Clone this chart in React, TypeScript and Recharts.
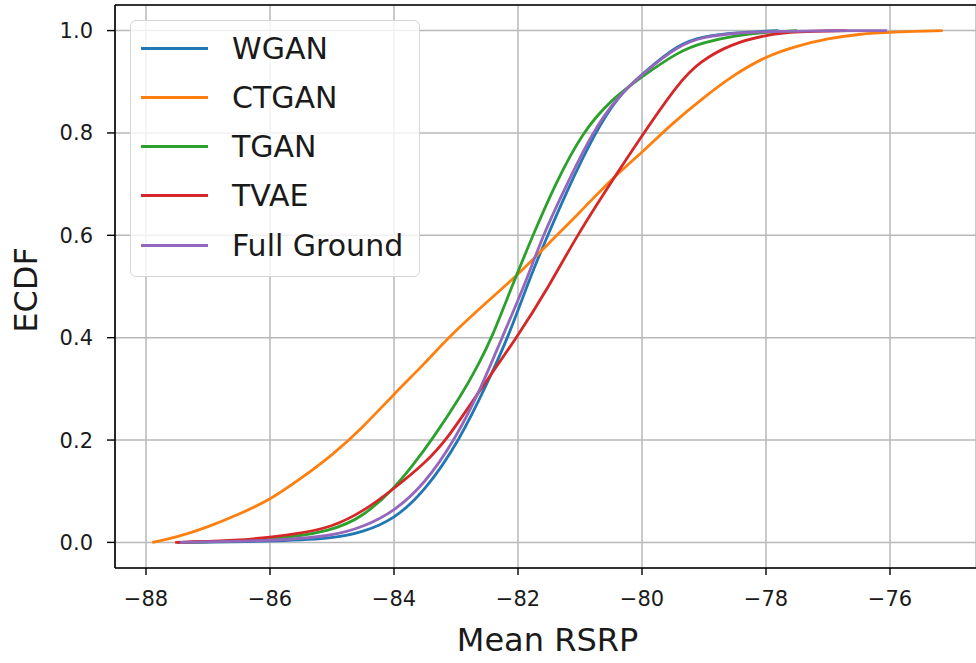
import { LineChart, Line, XAxis, YAxis, CartesianGrid, ReferenceLine } from "recharts"

const xTicks = [-88, -86, -84, -82, -80, -78, -76]
const yTicks = [0, 0.2, 0.4, 0.6, 0.8, 1.0]

const wganRsrp = [-87.5, -86, -85, -84.5, -84, -83.5, -82.94, -82.5, -82.16, -81.8, -81.52, -81.2, -80.76, -80.4, -80, -79.4, -79, -78.5, -77.8]
const wganEcdf = [0, 0.002, 0.007, 0.02, 0.045, 0.1, 0.2, 0.31, 0.4, 0.52, 0.6, 0.69, 0.8, 0.87, 0.915, 0.975, 0.989, 0.996, 1.0]

const ctganRsrp = [-87.9, -87.5, -87, -86.5, -86, -85.5, -85, -84.5, -84, -83.5, -83.13, -82.5, -82, -81.5, -81, -80.5, -80, -79.5, -79, -78.5, -78, -77.5, -77, -76.5, -76, -75.15]
const ctganEcdf = [0, 0.01, 0.03, 0.055, 0.083, 0.125, 0.17, 0.225, 0.29, 0.35, 0.4, 0.47, 0.523, 0.585, 0.645, 0.709, 0.762, 0.82, 0.87, 0.915, 0.95, 0.97, 0.985, 0.993, 0.997, 1.0]

const tganRsrp = [-87.4, -86, -85, -84.5, -84, -83.7, -83.39, -82.9, -82.65, -82.42, -82.1, -81.76, -81.4, -80.97, -80.5, -80, -79.4, -79, -78.5, -78, -77.5]
const tganEcdf = [0, 0.004, 0.022, 0.05, 0.105, 0.15, 0.2, 0.29, 0.345, 0.4, 0.5, 0.6, 0.7, 0.8, 0.865, 0.91, 0.96, 0.977, 0.99, 0.997, 1.0]

const tvaeRsrp = [-87.53, -86.5, -86, -85.5, -85, -84.5, -84, -83.5, -83.15, -82.6, -82.02, -81.5, -81.05, -80.41, -80, -79.4, -79.06, -78.58, -78, -77.5, -76.7]
const tvaeEcdf = [0, 0.004, 0.01, 0.018, 0.03, 0.06, 0.105, 0.155, 0.2, 0.3, 0.4, 0.5, 0.6, 0.72, 0.795, 0.9, 0.94, 0.973, 0.992, 0.998, 1.0]

const fullRsrp = [-87.45, -86, -85, -84.5, -84, -83.5, -83.02, -82.6, -82.26, -81.9, -81.6, -81.25, -80.81, -80.4, -80, -79.4, -79, -78.5, -78, -77, -76.05]
const fullEcdf = [0, 0.003, 0.012, 0.03, 0.06, 0.115, 0.2, 0.3, 0.4, 0.5, 0.6, 0.69, 0.8, 0.87, 0.915, 0.972, 0.988, 0.995, 0.998, 1.0, 1.0]

const toPoints = (xs: number[], ys: number[]) => xs.map((x, i) => ({ x, y: ys[i] }))

const series = [
  { name: "WGAN", color: "#1f77b4", data: toPoints(wganRsrp, wganEcdf) },
  { name: "CTGAN", color: "#ff7f0e", data: toPoints(ctganRsrp, ctganEcdf) },
  { name: "TGAN", color: "#2ca02c", data: toPoints(tganRsrp, tganEcdf) },
  { name: "TVAE", color: "#d62728", data: toPoints(tvaeRsrp, tvaeEcdf) },
  { name: "Full Ground", color: "#9467bd", data: toPoints(fullRsrp, fullEcdf) },
]

const font = "'DejaVu Sans', sans-serif"
const tickStyle = { fontSize: 21, fill: "#1a1a1a", fontFamily: font }
const fmtX = (v: number) => (v < 0 ? `\u2212${Math.abs(v)}` : `${v}`)

export default function App() {
  return (
    <div style={{ position: "absolute", left: 0, top: 0, width: 976, height: 663, overflow: "hidden", background: "#fff" }}>
      <LineChart width={976} height={663} margin={{ top: 5, right: 0, bottom: 0, left: 0 }}>
        <CartesianGrid stroke="#b8b8b8" strokeWidth={1.5} />
        <XAxis
          type="number"
          dataKey="x"
          domain={[-88.5, -74.613]}
          ticks={xTicks}
          allowDataOverflow
          height={95}
          tickSize={7}
          tickMargin={16}
          tick={tickStyle}
          tickFormatter={fmtX}
          axisLine={{ stroke: "#000", strokeWidth: 1.6 }}
          tickLine={{ stroke: "#000", strokeWidth: 1.4 }}
          label={{
            content: ({ viewBox }: any) => (
              <text x={viewBox.x + viewBox.width / 2 + 2} y={651} textAnchor="middle" fontSize={32} fontFamily={font} fill="#1a1a1a">
                Mean RSRP
              </text>
            ),
          }}
        />
        <YAxis
          type="number"
          domain={[-0.05, 1.05]}
          ticks={yTicks}
          allowDataOverflow
          width={115}
          tickSize={8}
          tickMargin={14}
          tick={tickStyle}
          tickFormatter={(v: number) => v.toFixed(1)}
          axisLine={{ stroke: "#000", strokeWidth: 1.6 }}
          tickLine={{ stroke: "#000", strokeWidth: 1.4 }}
          label={{
            content: () => (
              <text x={37} y={290} transform="rotate(-90 37 290)" textAnchor="middle" fontSize={32} fontFamily={font} fill="#1a1a1a">
                ECDF
              </text>
            ),
          }}
        />
        <ReferenceLine y={1.05} stroke="#000" strokeWidth={1.6} />
        {series.map((s) => (
          <Line
            key={s.name}
            data={s.data}
            dataKey="y"
            name={s.name}
            type="basis"
            stroke={s.color}
            strokeWidth={2.8}
            dot={false}
            isAnimationActive={false}
          />
        ))}
      </LineChart>
      <div
        style={{
          position: "absolute",
          left: 130,
          top: 20,
          width: 288,
          height: 255,
          border: "1.5px solid #d6d6d6",
          borderRadius: 6,
          background: "rgba(255,255,255,0.8)",
          fontFamily: font,
          fontSize: 30,
        }}
      >
        {series.map((s, i) => (
          <div key={s.name} style={{ position: "absolute", left: 0, top: 27 + i * 49.3 - 20, height: 40, display: "flex", alignItems: "center" }}>
            <div style={{ width: 67, height: 3, background: s.color, marginLeft: 10 }} />
            <span style={{ marginLeft: 24, color: "#1a1a1a", whiteSpace: "nowrap" }}>{s.name}</span>
          </div>
        ))}
      </div>
    </div>
  )
}
